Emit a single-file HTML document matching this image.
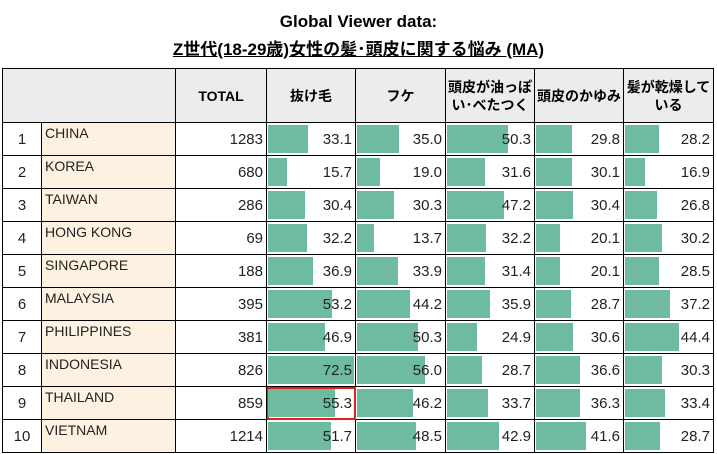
<!DOCTYPE html>
<html><head><meta charset="utf-8"><style>
body{margin:0;width:717px;height:454px;background:#fff;font-family:"Liberation Sans","Noto Sans CJK JP",sans-serif;overflow:hidden;position:relative}
.t{position:absolute;left:0;width:717px;text-align:center;font-weight:bold;font-size:17px;color:#000}
table{position:absolute;left:2px;top:68px;border-collapse:collapse;table-layout:fixed}
td{border:1px solid #000;padding:0;height:32px;box-sizing:border-box;position:relative;font-size:15px;color:#222}
tr{height:33px}
th{border:1px solid #000;background:#ececec;height:54px;box-sizing:border-box;font-size:14px;font-weight:bold;line-height:18px;padding:0}
.n{text-align:center}
.c{background:#fdf1e1;vertical-align:top;padding-left:3px;font-size:14px;padding-top:2px}
.v{text-align:right;padding-right:3px}
.b{position:absolute;left:1px;top:2px;bottom:2px;background:#6fbb9f}
.v span{position:relative}
.red{outline:2px solid #e02020;outline-offset:-2px}
</style></head><body>
<div class="t" style="top:12px">Global Viewer data:</div>
<div class="t" style="top:35px;text-decoration:underline">Z世代(18-29歳)女性の髪･頭皮に関する悩み (MA)</div>
<table>
<colgroup><col style="width:39px"><col style="width:134px"><col style="width:91px"><col style="width:89px"><col style="width:90px"><col style="width:89px"><col style="width:89px"><col style="width:90px"></colgroup>
<tr style="height:54px"><th colspan="2"></th><th>TOTAL</th><th>抜け毛</th><th>フケ</th><th>頭皮が油っぽ<br>い･べたつく</th><th>頭皮のかゆみ</th><th>髪が乾燥して<br>いる</th></tr>
<tbody id="tb"></tbody>
</table>
<script>
var d=[["CHINA",1283,33.1,35.0,50.3,29.8,28.2],["KOREA",680,15.7,19.0,31.6,30.1,16.9],["TAIWAN",286,30.4,30.3,47.2,30.4,26.8],["HONG KONG",69,32.2,13.7,32.2,20.1,30.2],["SINGAPORE",188,36.9,33.9,31.4,20.1,28.5],["MALAYSIA",395,53.2,44.2,35.9,28.7,37.2],["PHILIPPINES",381,46.9,50.3,24.9,30.6,44.4],["INDONESIA",826,72.5,56.0,28.7,36.6,30.3],["THAILAND",859,55.3,46.2,33.7,36.3,33.4],["VIETNAM",1214,51.7,48.5,42.9,41.6,28.7]];
var h="";d.forEach(function(r,i){h+='<tr><td class="n">'+(i+1)+'</td><td class="c">'+r[0]+'</td><td class="v">'+r[1]+'</td>';
for(var j=2;j<7;j++){var w=Math.min(r[j]*1.21,86);h+='<td class="v'+(i==8&&j==2?' red':'')+'"><div class="b" style="width:'+w+'px"></div><span>'+r[j].toFixed(1)+'</span></td>';}
h+='</tr>';});document.getElementById('tb').innerHTML=h;
</script>
</body></html>
